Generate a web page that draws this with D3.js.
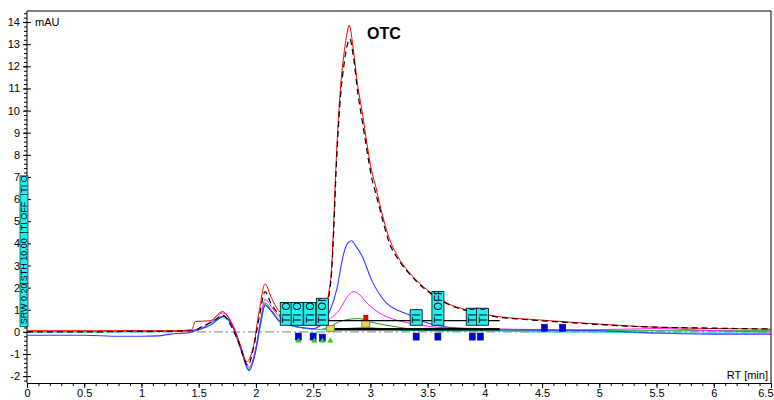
<!DOCTYPE html>
<html><head><meta charset="utf-8">
<script src="https://cdn.jsdelivr.net/npm/d3@7"></script>
<style>body{margin:0;background:#fff}svg{display:block;font-family:Arial,"Liberation Sans",sans-serif}</style>
</head><body><svg id="c" width="774" height="400"></svg>
<script>
// ---- data ----
const xTicks = [0,0.5,1,1.5,2,2.5,3,3.5,4,4.5,5,5.5,6,6.5];
const yTicks = [-2,-1,0,1,2,3,4,5,6,7,8,9,10,11,12,13,14];

const redT = [0,0.3,0.6,0.9,1.1,1.3,1.44,1.47,1.6,1.71,1.78,1.85,1.92,1.98,2.03,2.08,2.13,2.2,2.3,2.4,2.5,2.58,2.62,2.64,2.66,2.68,2.70,2.72,2.74,2.77,2.80,2.815,2.85,2.89,2.93,2.97,3.01,3.05,3.08,3.12,3.16,3.24,3.32,3.40,3.46,3.55,3.67,3.80,3.95,4.10,4.30,4.50,4.80,5.10,5.35,5.70,6.00,6.23,6.50];
const redV = [0.05,0.05,0.05,0.06,0.05,0.05,0.1,0.47,0.5,0.92,0.45,-0.4,-1.34,-0.6,1.0,2.17,1.6,0.95,0.65,0.55,0.5,0.5,1.3,1.9,2.8,5.0,7.6,9.6,11.1,12.6,13.6,13.86,12.8,11.1,9.9,8.5,7.3,6.5,5.8,5.0,4.3,3.4,2.8,2.35,2.05,1.7,1.3,1.05,0.85,0.7,0.6,0.53,0.42,0.32,0.24,0.18,0.15,0.14,0.12];

const blackT = [0,0.3,0.6,0.9,1.1,1.3,1.45,1.55,1.62,1.71,1.78,1.85,1.93,1.98,2.03,2.08,2.13,2.2,2.3,2.4,2.5,2.58,2.62,2.64,2.66,2.68,2.70,2.72,2.74,2.77,2.80,2.82,2.85,2.89,2.93,2.97,3.01,3.05,3.08,3.12,3.16,3.24,3.32,3.40,3.46,3.55,3.67,3.80,3.95,4.10,4.30,4.50,4.80,5.10,5.35,5.70,6.00,6.23,6.50];
const blackV = [0.0,0.0,0.0,0.02,0.02,0.03,0.05,0.3,0.45,0.75,0.3,-0.5,-1.5,-0.7,0.7,1.82,1.3,0.8,0.5,0.45,0.45,0.5,1.1,1.7,2.6,4.6,7.2,9.2,10.7,12.1,13.0,13.24,12.5,10.8,9.5,8.2,7.0,6.2,5.6,4.8,4.1,3.3,2.75,2.3,2.0,1.65,1.27,1.02,0.83,0.68,0.58,0.5,0.4,0.3,0.24,0.19,0.17,0.15,0.13];

const blueT = [0,0.5,0.8,1.0,1.15,1.25,1.4,1.5,1.6,1.72,1.8,1.87,1.94,2.0,2.04,2.08,2.14,2.2,2.3,2.4,2.5,2.6,2.65,2.71,2.76,2.80,2.835,2.87,2.93,3.01,3.08,3.14,3.25,3.35,3.5,3.7,4.0,4.5,5.0,5.5,6.0,6.5];
const blueV = [-0.15,-0.15,-0.2,-0.2,-0.18,-0.1,-0.05,0.1,0.3,0.7,0.2,-0.8,-1.75,-0.8,0.4,1.2,0.9,0.5,0.3,0.2,0.15,0.5,1.0,2.0,3.4,4.0,4.12,3.9,3.4,2.35,1.7,1.3,0.95,0.75,0.4,0.2,0.12,0.08,0.05,-0.05,-0.1,-0.1];

const magentaT = [0,0.5,1.0,1.3,1.5,1.6,1.71,1.8,1.87,1.94,2.0,2.04,2.08,2.14,2.2,2.3,2.45,2.55,2.65,2.73,2.8,2.85,2.9,2.97,3.05,3.14,3.25,3.4,3.6,4.0,4.5,5.0,5.5,6.0,6.5];
const magentaV = [0.02,0.02,0.02,0.03,0.1,0.45,0.85,0.3,-0.7,-1.6,-0.7,0.5,1.48,1.1,0.7,0.4,0.3,0.3,0.6,1.0,1.6,1.82,1.7,1.3,0.95,0.69,0.5,0.35,0.2,0.15,0.1,0.1,0.15,0.05,0.0];

const cyanT = [0,0.5,1.0,1.3,1.5,1.6,1.71,1.8,1.87,1.94,2.0,2.04,2.08,2.14,2.2,2.3,2.45,2.6,2.8,2.95,3.2,3.5,4.0,4.5,5.0,5.5,6.0,6.5];
const cyanV = [0.0,0.0,0.0,0.02,0.1,0.4,0.65,0.2,-0.8,-1.75,-0.8,0.3,1.22,0.9,0.5,0.3,0.15,0.1,0.15,0.2,0.1,0.05,0.05,0.0,0.0,-0.05,-0.05,-0.05];

const greenT = [0,0.5,1.0,1.3,1.5,1.6,1.71,1.8,1.87,1.94,2.0,2.04,2.08,2.14,2.2,2.3,2.45,2.55,2.65,2.75,2.9,3.0,3.2,3.4,3.6,4.0,4.5,5.0,5.5,6.0,6.5];
const greenV = [0.02,0.02,0.02,0.03,0.1,0.4,0.7,0.25,-0.75,-1.7,-0.75,0.35,1.3,0.95,0.55,0.3,0.15,0.1,0.25,0.5,0.6,0.45,0.25,0.1,0.05,0.05,0.05,0.05,0.05,0.05,0.05];

// integration baselines [t0, v0, t1, v1]
const baseT0 = [2.62, 2.63];
const baseV0 = [0.51, 0.12];
const baseT1 = [4.13, 4.13];
const baseV1 = [0.51, 0.12];

// peak markers
const blueMarkT = [2.37,2.50,2.58,3.40,3.59,3.89,3.96,4.52,4.68];
const blueMarkV = [-0.1,-0.1,-0.15,-0.1,-0.1,-0.1,-0.1,0.3,0.3];
const greenMarkT = [2.37,2.51,2.58,2.65];
const greenMarkV = [-0.3,-0.3,-0.3,-0.3];
const yellowMarkT = [2.65,2.96];
const yellowMarkV = [0.15,0.35];
const redMarkT = [2.96];
const redMarkV = [0.65];

// timed event boxes
const evT = [2.265,2.36,2.47,2.58,3.40,3.59,3.89,3.98];
const evTop = [1.33,1.33,1.33,1.52,1.0,1.82,1.07,1.07];
const evLabel = ["TI OFF","TI ON","TI OFF","TI ON","TI OFF","TI OFF","TI OFF","TI ON"];
const leftBoxLabels = ["SRW 0.20","STH 10.00","TI OFF","TI OFF"];
const leftBoxBounds = [0.25,2.2,4.5,6.2,7.05];

// ---- drawing ----
const svg = d3.select("#c");
const L=27, R=771, T=11, B=383;
const x = d3.scaleLinear().domain([0,6.5]).range([L,R]);
const y = d3.scaleLinear().domain([-2.31,14.5]).range([B,T]);
const defs = svg.append("defs");
defs.append("clipPath").attr("id","pc")
  .append("rect").attr("x",L).attr("y",T).attr("width",R-L).attr("height",B-T);

// frame
svg.append("line").attr("x1",L).attr("x2",R).attr("y1",T).attr("y2",T).attr("stroke","#000");
svg.append("line").attr("x1",R).attr("x2",R).attr("y1",T).attr("y2",B).attr("stroke","#000");

// zero dash-dot line
svg.append("line").attr("x1",x(0)).attr("x2",x(6.5)).attr("y1",y(0)).attr("y2",y(0))
  .attr("stroke","#9a9a9a").attr("stroke-width",1.3).attr("stroke-dasharray","9,3,2,3");

// axes
const xMinor = d3.range(0,6.5001,0.1).map(v=>+v.toFixed(2));
svg.append("g").attr("transform",`translate(0,${B})`)
  .call(d3.axisBottom(x).tickValues(xMinor).tickSize(3).tickFormat(""))
  .call(g=>g.select(".domain").remove());
const gx = svg.append("g").attr("transform",`translate(0,${B})`)
  .call(d3.axisBottom(x).tickValues(xTicks).tickSize(5).tickSizeOuter(0).tickPadding(1)
     .tickFormat(d=>String(d)));
gx.selectAll("text").attr("font-size",11).attr("font-family","Arial, 'Liberation Sans', sans-serif").attr("fill","#000");
gx.selectAll(".tick").filter(d=>d===6.5).select("text").attr("text-anchor","end").attr("x",2);

const yMinor = d3.range(-2.2,14.41,0.2).map(v=>+v.toFixed(2));
svg.append("g").attr("transform",`translate(${L},0)`)
  .call(d3.axisLeft(y).tickValues(yMinor).tickSize(3).tickFormat(""))
  .call(g=>g.select(".domain").remove());
const gy = svg.append("g").attr("transform",`translate(${L},0)`)
  .call(d3.axisLeft(y).tickValues(yTicks).tickSize(4).tickSizeOuter(0).tickPadding(3)
     .tickFormat(d=>String(d)));
gy.select(".domain").attr("d",`M0,${B}V${T}`);
gy.selectAll(".tick line").attr("x1",-4).attr("x2",4);
gy.selectAll("text").attr("font-size",11).attr("font-family","Arial, 'Liberation Sans', sans-serif").attr("fill","#000");

// traces
const plot = svg.append("g").attr("clip-path","url(#pc)");
const line = d3.line().x(d=>x(d[0])).y(d=>y(d[1])).curve(d3.curveMonotoneX);
const zipTV = (t,v)=>t.map((tt,i)=>[tt,v[i]]);
const traces = [
  {t:greenT,v:greenV,c:"#1a9a1a",w:1,d:null},
  {t:cyanT,v:cyanV,c:"#00d8d8",w:1.2,d:null},
  {t:magentaT,v:magentaV,c:"#ff10ff",w:1,d:null},
  {t:blueT,v:blueV,c:"#3838ff",w:1.1,d:null},
  {t:redT,v:redV,c:"#ff0000",w:1,d:null},
  {t:blackT,v:blackV,c:"#000000",w:1.2,d:"6,4"}
];
traces.forEach(s=>{
  plot.append("path").datum(zipTV(s.t,s.v)).attr("d",line)
    .attr("fill","none").attr("stroke",s.c).attr("stroke-width",s.w)
    .attr("stroke-dasharray",s.d);
});

// integration baselines
baseT0.forEach((t0,i)=>{
  plot.append("line").attr("x1",x(t0)).attr("y1",y(baseV0[i])).attr("x2",x(baseT1[i])).attr("y2",y(baseV1[i]))
    .attr("stroke","#000").attr("stroke-width",i===1?2.5:1.2);
});

// markers
blueMarkT.forEach((t,i)=>{
  plot.append("rect").attr("x",x(t)-3).attr("y",y(blueMarkV[i])-1).attr("width",6).attr("height",7)
    .attr("fill","#0000e0").attr("stroke","#000060").attr("stroke-width",0.6);
});
greenMarkT.forEach((t,i)=>{
  const cx=x(t), cy=y(greenMarkV[i]);
  plot.append("path").attr("d",`M${cx-3},${cy+4}L${cx+3},${cy+4}L${cx},${cy-1}Z`).attr("fill","#22cc22");
});
yellowMarkT.forEach((t,i)=>{
  plot.append("rect").attr("x",x(t)-4).attr("y",y(yellowMarkV[i])-3).attr("width",8).attr("height",6)
    .attr("fill","#e8d830").attr("stroke","#555").attr("stroke-width",0.6);
});
redMarkT.forEach((t,i)=>{
  plot.append("rect").attr("x",x(t)-2.5).attr("y",y(redMarkV[i])-2.5).attr("width",5).attr("height",5).attr("fill","#ee0000");
});

// event boxes
const boxBottom = 0.3;
evT.forEach((t,i)=>{
  const w = 12, x0 = x(t)-w/2, y0 = y(evTop[i]), h = y(boxBottom)-y0;
  defs.append("clipPath").attr("id","eb"+i).append("rect").attr("x",x0).attr("y",y0).attr("width",w).attr("height",h);
  const g = svg.append("g");
  g.append("rect").attr("x",x0).attr("y",y0).attr("width",w).attr("height",h)
    .attr("fill","#22f0f0").attr("stroke","#000").attr("stroke-width",0.8);
  g.append("g").attr("clip-path",`url(#eb${i})`).append("text")
    .attr("transform",`translate(${x0+w/2+4},${y0+h-2}) rotate(-90)`)
    .attr("font-size",11).attr("fill","#000").text(evLabel[i]);
});

// left vertical box
leftBoxLabels.forEach((lab,i)=>{
  const y0 = y(leftBoxBounds[i+1]), y1 = y(leftBoxBounds[i]);
  const x0 = 20, w = 8;
  defs.append("clipPath").attr("id","lb"+i).append("rect").attr("x",x0).attr("y",y0).attr("width",w).attr("height",y1-y0);
  svg.append("rect").attr("x",x0).attr("y",y0).attr("width",w).attr("height",y1-y0)
    .attr("fill","#22f0f0").attr("stroke","#000").attr("stroke-width",0.6);
  svg.append("g").attr("clip-path",`url(#lb${i})`).append("text")
    .attr("transform",`translate(${x0+w/2+3.3},${y1-2}) rotate(-90)`)
    .attr("font-size",9).attr("fill","#000").text(lab);
});

// labels
svg.append("text").attr("x",35).attr("y",26).attr("font-size",11).text("mAU");
svg.append("text").attr("x",768).attr("y",379).attr("text-anchor","end").attr("font-size",11).text("RT [min]");
svg.append("text").attr("x",367).attr("y",39).attr("font-size",16).attr("font-weight","bold").text("OTC");
</script></body></html>
